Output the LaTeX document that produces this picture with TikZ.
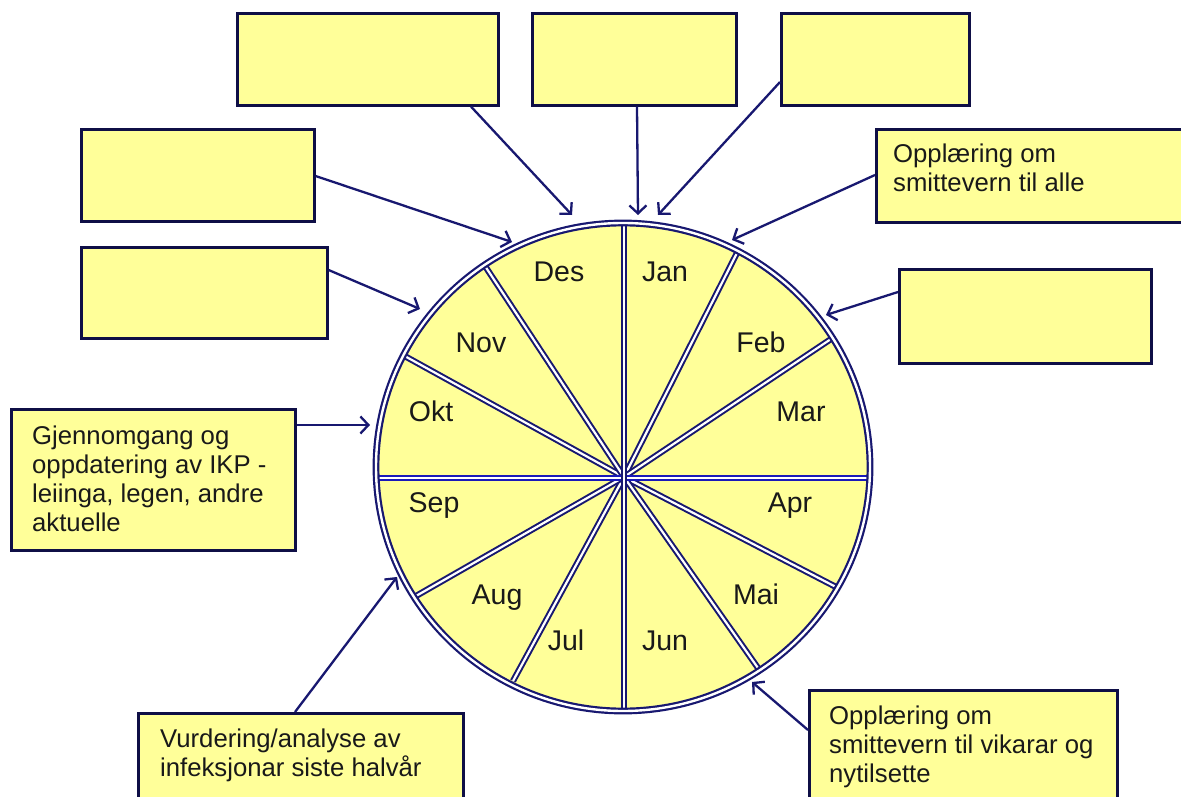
\documentclass[tikz,border=0pt]{standalone}
\usepackage{fontspec}
\setmainfont{Liberation Sans}
\usetikzlibrary{arrows.meta,calc}
\definecolor{fillyel}{RGB}{255,255,153}
\definecolor{navyline}{RGB}{24,24,112}
\definecolor{boxline}{RGB}{15,15,70}
\definecolor{hblue}{RGB}{25,25,185}
\definecolor{txtcol}{RGB}{25,25,25}
\tikzset{
  box/.style={draw=boxline, line width=2.6pt, fill=fillyel, anchor=north west, inner sep=0pt},
  boxtxt/.style={anchor=base west, align=left, inner sep=0pt, font=\fontsize{25.7}{29}\selectfont, text=txtcol},
  month/.style={anchor=base, inner sep=0pt, font=\fontsize{28.5}{30}\selectfont, text=txtcol},
  conn/.style={draw=navyline, line width=2.3pt, -{Straight Barb[length=8pt,width=17pt,line width=2.3pt]}},
  spoke/.style={draw=navyline, line width=2pt, double=white, double distance=2.2pt},
  hspoke/.style={draw=hblue, line width=2pt, double=white, double distance=2.2pt},
  rim/.style={draw=navyline, line width=2.2pt, double=white, double distance=2.4pt}
}
\begin{document}
\begin{tikzpicture}[x=1pt,y=-1pt]
\fill[white] (0,0) rectangle (1181,797);
\useasboundingbox (0,0) rectangle (1181,797);

% boxes
\node[box, minimum width=261pt, minimum height=92pt] (t1) at (236,12) {};
\node[box, minimum width=204pt, minimum height=92pt] (t2) at (531,12) {};
\node[box, minimum width=188pt, minimum height=92pt] (t3) at (780,12) {};
\node[box, minimum width=233pt, minimum height=92pt] (l1) at (80,128) {};
\node[box, minimum width=246pt, minimum height=91pt] (l2) at (80,246) {};
\node[box, minimum width=315pt, minimum height=93pt] (r1) at (875,128) {};
\node[box, minimum width=252pt, minimum height=94pt] (r2) at (898,268) {};
\node[box, minimum width=284pt, minimum height=141pt] (lm) at (10,408) {};
\node[box, minimum width=325pt, minimum height=100pt] (bl) at (137,712) {};
\node[box, minimum width=308pt, minimum height=120pt] (br) at (808,689) {};

% box texts (base anchor = baseline of last line)
\node[boxtxt] (r1t) at ($(r1.north west)+(18,64)$) {Opplæring om\\smittevern til alle};
\node[boxtxt] (lmt) at ($(lm.north west)+(22,123)$) {Gjennomgang og\\oppdatering av IKP -\\leiinga, legen, andre\\aktuelle};
\node[boxtxt] (blt) at ($(bl.north west)+(23,64)$) {Vurdering/analyse av\\infeksjonar siste halvår};
\node[boxtxt] (brt) at ($(br.north west)+(21,93)$) {Opplæring om\\smittevern til vikarar og\\nytilsette};

% wheel
\coordinate (S) at (624,477);
\coordinate (E1) at (624,222);
\coordinate (E2) at (739,249);
\coordinate (E3) at (834,337);
\coordinate (E4) at (871,478);
\coordinate (E5) at (836,587);
\coordinate (E6) at (758,668);
\coordinate (E7) at (624,712);
\coordinate (E8) at (513,681);
\coordinate (E9) at (416,596);
\coordinate (E10) at (373,478);
\coordinate (E11) at (401,354);
\coordinate (E12) at (485,266);

\fill[fillyel] (623,467) ellipse [x radius=247pt, y radius=244pt];
\draw[spoke] (E2) -- (S) -- (E8);
\draw[spoke] (E3) -- (S) -- (E9);
\draw[spoke] (E5) -- (S) -- (E11);
\draw[spoke] (E6) -- (S) -- (E12);
\draw[hspoke] (E10) -- (E4);
\draw[spoke] (E1) -- (E7);
\draw[rim] (623,467) ellipse [x radius=247pt, y radius=244pt];

% months
\node[month] (jan) at (665,281) {Jan};
\node[month] (feb) at (761,352) {Feb};
\node[month] (mar) at (801,421) {Mar};
\node[month] (apr) at (790,512) {Apr};
\node[month] (mai) at (756,604) {Mai};
\node[month] (jun) at (665,650) {Jun};
\node[month] (jul) at (566,650) {Jul};
\node[month] (aug) at (497,604) {Aug};
\node[month] (sep) at (434,512) {Sep};
\node[month] (okt) at (431,421) {Okt};
\node[month] (nov) at (481,352) {Nov};
\node[month] (des) at (559,281) {Des};

% arrow targets on the rim
\coordinate (a1) at (572,215);
\coordinate (a2) at (638,215);
\coordinate (a3) at (658,215);
\coordinate (a4) at (512,242);
\coordinate (a5) at (420,309);
\coordinate (a6) at (732,240);
\coordinate (a7) at (826,315);
\coordinate (a8) at (370,425);
\coordinate (a9) at (397,577);
\coordinate (a10) at (752,682);

% connectors
\draw[conn] ($(t1.south west)+(235,0)$) -- (a1);
\draw[conn] ($(t2.south west)+(106,0)$) -- (a2);
\draw[conn] ($(t3.north west)+(0,70)$) -- (a3);
\draw[conn] ($(l1.north east)+(0,48)$) -- (a4);
\draw[conn] ($(l2.north east)+(0,24)$) -- (a5);
\draw[conn] ($(r1.north west)+(0,47)$) -- (a6);
\draw[conn] ($(r2.north west)+(0,24)$) -- (a7);
\draw[conn] ($(lm.north east)+(0,17)$) -- (a8);
\draw[conn] ($(bl.north west)+(158,0)$) -- (a9);
\draw[conn] ($(br.north west)+(0,41)$) -- (a10);
\end{tikzpicture}
\end{document}
